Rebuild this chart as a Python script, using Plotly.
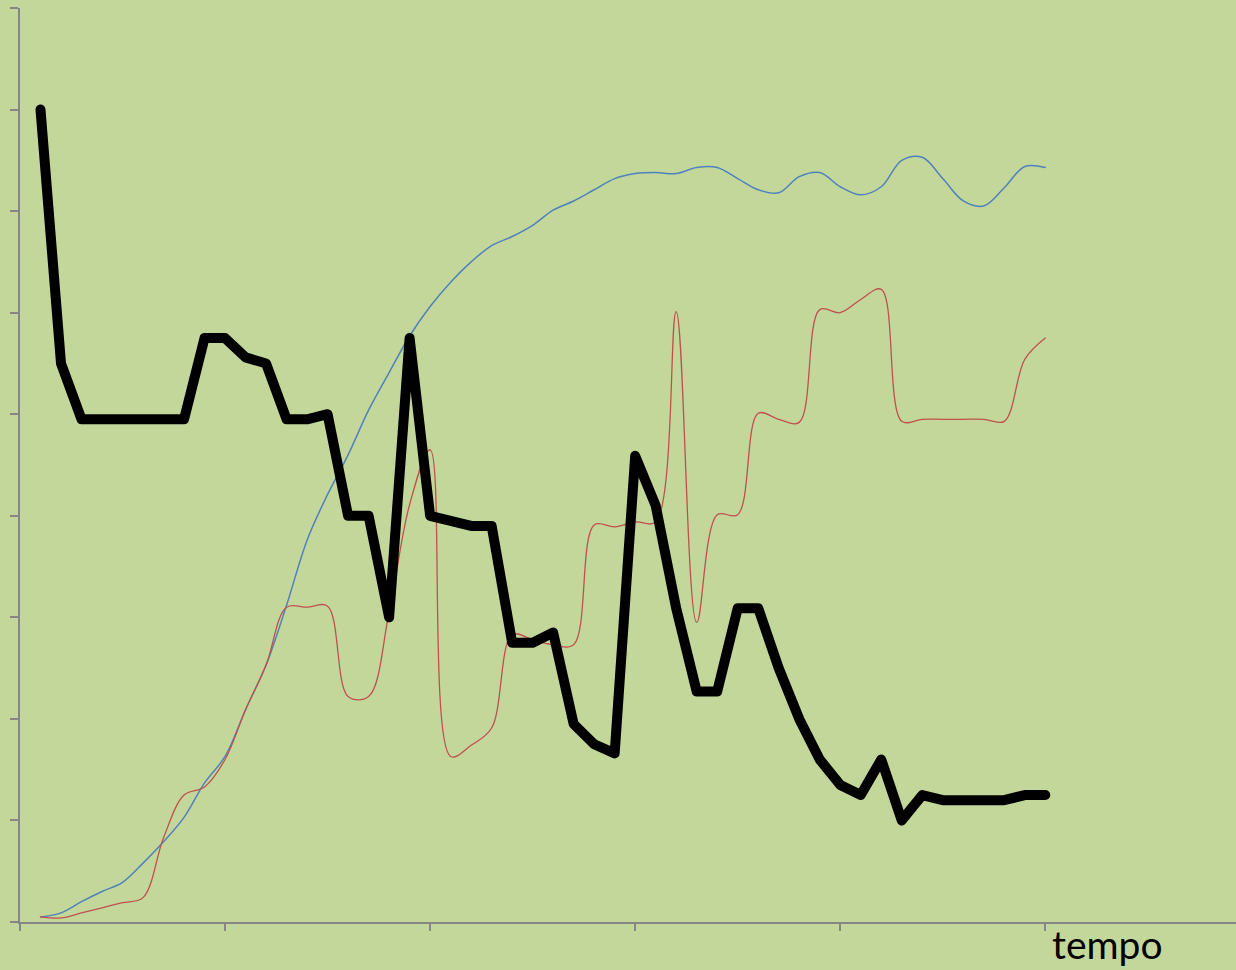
import plotly.graph_objects as go

# x positions (time index)
tempo = list(range(1, 51))

serie_preta = [8.00, 5.50, 4.95, 4.95, 4.95, 4.95, 4.95, 4.95, 5.75, 5.75,
               5.56, 5.50, 4.95, 4.95, 5.00, 4.00, 4.00, 3.00, 5.75, 4.00,
               3.95, 3.90, 3.90, 2.75, 2.75, 2.85, 1.95, 1.75, 1.66, 4.59,
               4.10, 3.09, 2.27, 2.27, 3.09, 3.09, 2.50, 2.00, 1.60, 1.35,
               1.25, 1.60, 1.00, 1.25, 1.20, 1.20, 1.20, 1.20, 1.25, 1.25]

serie_azul = [0.05, 0.09, 0.20, 0.30, 0.39, 0.58, 0.79, 1.03, 1.37, 1.63,
              2.09, 2.53, 3.12, 3.76, 4.21, 4.60, 5.04, 5.41, 5.77, 6.06,
              6.30, 6.50, 6.66, 6.75, 6.86, 7.01, 7.10, 7.21, 7.32, 7.37,
              7.38, 7.37, 7.43, 7.43, 7.32, 7.21, 7.18, 7.34, 7.38, 7.24,
              7.16, 7.24, 7.50, 7.53, 7.32, 7.10, 7.05, 7.23, 7.44, 7.43]

serie_vermelha = [0.05, 0.04, 0.09, 0.14, 0.19, 0.24, 0.83, 1.25, 1.33, 1.60,
                  2.09, 2.53, 3.10, 3.10, 3.11, 2.22, 2.22, 3.05, 4.11, 4.65,
                  1.63, 1.74, 1.91, 2.83, 2.78, 2.73, 2.73, 3.91, 3.89, 3.94,
                  3.94, 6.01, 2.95, 4.01, 4.01, 5.01, 4.95, 4.92, 6.03, 6.00,
                  6.13, 6.23, 4.93, 4.95, 4.95, 4.95, 4.95, 4.93, 5.54, 5.75]

x_ticks = [0, 10, 20, 30, 40, 50]
y_ticks = [0, 1, 2, 3, 4, 5, 6, 7, 8, 9]
x_label = "tempo"

BG = "#C4D79B"
AXIS = "#868686"

fig = go.Figure()
fig.add_trace(go.Scatter(x=tempo, y=serie_azul, mode="lines",
                         line=dict(color="#4F81BD", width=1.5, shape="spline", smoothing=1.0),
                         showlegend=False, hoverinfo="skip"))
fig.add_trace(go.Scatter(x=tempo, y=serie_vermelha, mode="lines",
                         line=dict(color="#C0504D", width=1.3, shape="spline", smoothing=1.0),
                         showlegend=False, hoverinfo="skip"))
fig.add_trace(go.Scatter(x=tempo, y=serie_preta, mode="lines",
                         line=dict(color="#000000", width=10),
                         showlegend=False, hoverinfo="skip"))

fig.update_layout(
    width=1236, height=970,
    margin=dict(l=20, r=0, t=8, b=48, pad=0),
    paper_bgcolor=BG, plot_bgcolor=BG,
    hovermode=False,
    xaxis=dict(range=[0, 59.3], tickvals=x_ticks, showticklabels=False,
               ticks="outside", ticklen=7, tickwidth=2, tickcolor=AXIS,
               showline=True, linewidth=2, linecolor=AXIS,
               showgrid=False, zeroline=False, fixedrange=True),
    yaxis=dict(range=[0, 9], tickvals=y_ticks, showticklabels=False,
               ticks="outside", ticklen=8, tickwidth=2, tickcolor=AXIS,
               showline=True, linewidth=2, linecolor=AXIS,
               showgrid=False, zeroline=False, fixedrange=True),
    annotations=[dict(text=x_label, xref="x", yref="paper", x=50.3, y=0,
                      xanchor="left", yanchor="top", yshift=2, borderpad=0,
                      showarrow=False,
                      font=dict(family="Lato", size=39, color="#000000"))],
)

post = ("document.body.style.margin='0';document.body.style.background='" + BG + "';"
        "document.querySelectorAll('.scatterlayer path.js-line').forEach(function(p){"
        "p.style.strokeLinejoin='round';p.style.strokeLinecap='round';});")
fig.write_html("out.html", post_script=post, config={"displayModeBar": False})
